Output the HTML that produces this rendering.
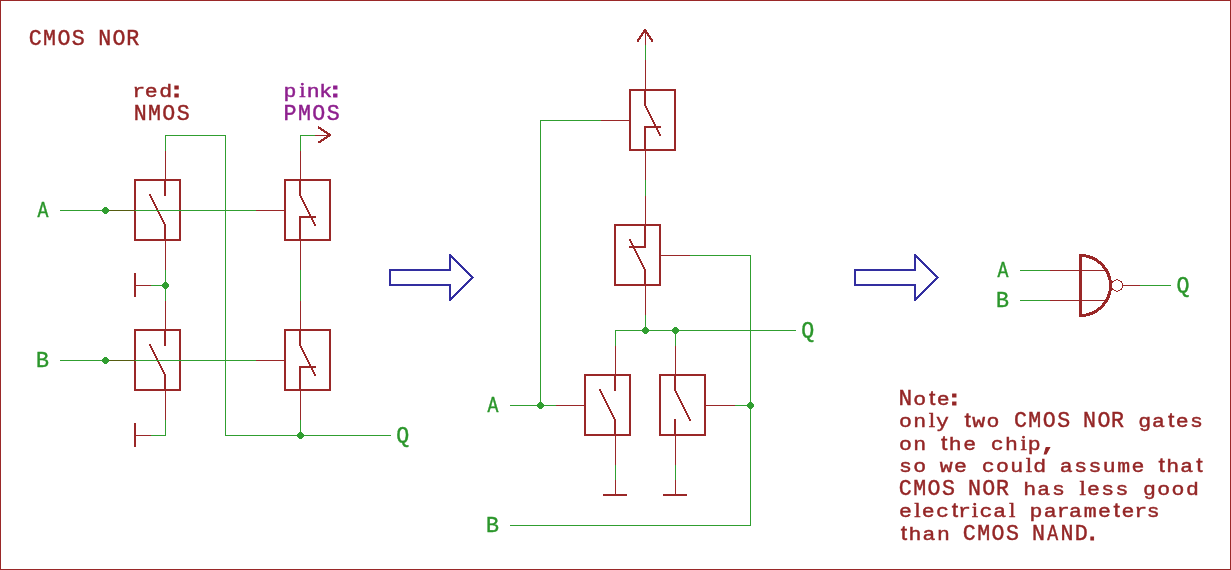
<!DOCTYPE html>
<html lang="en"><head><meta charset="utf-8"><title>CMOS NOR</title>
<style>
html,body{margin:0;padding:0;background:#fff;}
body{width:1231px;height:570px;overflow:hidden;position:relative;}
svg{position:absolute;left:0;top:0;display:block;will-change:transform;}
#frame{position:absolute;left:0;top:0;width:1229px;height:568px;border:1px solid #9a2828;}
text{font-family:"Liberation Mono",monospace;white-space:pre;stroke-width:0.45px;}
.m{font-family:"Liberation Mono",monospace;}
.mb{font-family:"Liberation Mono",monospace;font-weight:bold;stroke-width:0.9px;}
.s{font-family:"Liberation Sans",sans-serif;}
.sf{font-family:"Liberation Serif",serif;}
#g path,#g rect,#g circle,#g polygon{shape-rendering:crispEdges;}
</style></head><body>
<div id="frame"></div>
<svg width="1231" height="570" viewBox="0 0 1231 570">
<g id="g">
<path d="M60.5,210.5 L255.5,210.5" stroke="#309e30" stroke-width="1" fill="none" stroke-linecap="square"/>
<path d="M60.5,360.5 L255.5,360.5" stroke="#309e30" stroke-width="1" fill="none" stroke-linecap="square"/>
<path d="M105.5,210.5 L135.5,210.5" stroke="#9a2828" stroke-width="1" fill="none" stroke-linecap="square"/>
<path d="M165.5,150.5 L165.5,180.5" stroke="#9a2828" stroke-width="1" fill="none" stroke-linecap="square"/>
<path d="M165.5,240.5 L165.5,270.5" stroke="#9a2828" stroke-width="1" fill="none" stroke-linecap="square"/>
<rect x="135" y="180" width="45" height="60" stroke="#9a2828" stroke-width="2" fill="none" stroke-linejoin="round"/>
<path d="M165,180 L165,195" stroke="#9a2828" stroke-width="2" fill="none" stroke-linecap="round" stroke-linejoin="round"/>
<path d="M150,195 L165,225 L165,240" stroke="#9a2828" stroke-width="2" fill="none" stroke-linecap="round" stroke-linejoin="round"/>
<path d="M105.5,360.5 L135.5,360.5" stroke="#9a2828" stroke-width="1" fill="none" stroke-linecap="square"/>
<path d="M165.5,300.5 L165.5,330.5" stroke="#9a2828" stroke-width="1" fill="none" stroke-linecap="square"/>
<path d="M165.5,390.5 L165.5,420.5" stroke="#9a2828" stroke-width="1" fill="none" stroke-linecap="square"/>
<rect x="135" y="330" width="45" height="60" stroke="#9a2828" stroke-width="2" fill="none" stroke-linejoin="round"/>
<path d="M165,330 L165,345" stroke="#9a2828" stroke-width="2" fill="none" stroke-linecap="round" stroke-linejoin="round"/>
<path d="M150,345 L165,375 L165,390" stroke="#9a2828" stroke-width="2" fill="none" stroke-linecap="round" stroke-linejoin="round"/>
<path d="M255.5,210.5 L285.5,210.5" stroke="#9a2828" stroke-width="1" fill="none" stroke-linecap="square"/>
<path d="M300.5,150.5 L300.5,180.5" stroke="#9a2828" stroke-width="1" fill="none" stroke-linecap="square"/>
<path d="M300.5,240.5 L300.5,270.5" stroke="#9a2828" stroke-width="1" fill="none" stroke-linecap="square"/>
<rect x="285" y="180" width="45" height="60" stroke="#9a2828" stroke-width="2" fill="none" stroke-linejoin="round"/>
<path d="M300,180 L300,195 L315,225" stroke="#9a2828" stroke-width="2" fill="none" stroke-linecap="round" stroke-linejoin="round"/>
<path d="M315,217 L300,217 L300,240" stroke="#9a2828" stroke-width="2" fill="none" stroke-linecap="round" stroke-linejoin="round"/>
<path d="M255.5,360.5 L285.5,360.5" stroke="#9a2828" stroke-width="1" fill="none" stroke-linecap="square"/>
<path d="M300.5,300.5 L300.5,330.5" stroke="#9a2828" stroke-width="1" fill="none" stroke-linecap="square"/>
<path d="M300.5,390.5 L300.5,420.5" stroke="#9a2828" stroke-width="1" fill="none" stroke-linecap="square"/>
<rect x="285" y="330" width="45" height="60" stroke="#9a2828" stroke-width="2" fill="none" stroke-linejoin="round"/>
<path d="M300,330 L300,345 L315,375" stroke="#9a2828" stroke-width="2" fill="none" stroke-linecap="round" stroke-linejoin="round"/>
<path d="M315,367 L300,367 L300,390" stroke="#9a2828" stroke-width="2" fill="none" stroke-linecap="round" stroke-linejoin="round"/>
<path d="M105.5,210.5 L135.5,210.5" stroke="#565c10" stroke-width="1" fill="none" stroke-linecap="square"/>
<path d="M105.5,360.5 L135.5,360.5" stroke="#565c10" stroke-width="1" fill="none" stroke-linecap="square"/>
<path d="M135.5,210.5 L255.5,210.5" stroke="#309e30" stroke-width="1" fill="none" stroke-linecap="square"/>
<path d="M135.5,360.5 L255.5,360.5" stroke="#309e30" stroke-width="1" fill="none" stroke-linecap="square"/>
<path d="M165.5,150.5 L165.5,135.5 L225.5,135.5 L225.5,435.5 L390.5,435.5" stroke="#309e30" stroke-width="1" fill="none" stroke-linecap="square"/>
<path d="M165.5,270.5 L165.5,300.5" stroke="#309e30" stroke-width="1" fill="none" stroke-linecap="square"/>
<path d="M150.5,285.5 L165.5,285.5" stroke="#309e30" stroke-width="1" fill="none" stroke-linecap="square"/>
<path d="M135.5,285.5 L150.5,285.5" stroke="#9a2828" stroke-width="1" fill="none" stroke-linecap="square"/>
<path d="M135,273.75 L135,296.25" stroke="#9a2828" stroke-width="2" fill="none" stroke-linecap="round" stroke-linejoin="round"/>
<path d="M165.5,420.5 L165.5,435.5 L150.5,435.5" stroke="#309e30" stroke-width="1" fill="none" stroke-linecap="square"/>
<path d="M135.5,435.5 L150.5,435.5" stroke="#9a2828" stroke-width="1" fill="none" stroke-linecap="square"/>
<path d="M135,423.75 L135,446.25" stroke="#9a2828" stroke-width="2" fill="none" stroke-linecap="round" stroke-linejoin="round"/>
<path d="M300.5,150.5 L300.5,135.5 L315.5,135.5" stroke="#309e30" stroke-width="1" fill="none" stroke-linecap="square"/>
<path d="M315.5,135.5 L330.5,135.5" stroke="#9a2828" stroke-width="1" fill="none" stroke-linecap="square"/>
<path d="M318.75,127.5 L330,135 L318.75,142.5" stroke="#9a2828" stroke-width="2" fill="none" stroke-linecap="round" stroke-linejoin="round"/>
<path d="M300.5,270.5 L300.5,300.5" stroke="#309e30" stroke-width="1" fill="none" stroke-linecap="square"/>
<path d="M300.5,420.5 L300.5,435.5" stroke="#309e30" stroke-width="1" fill="none" stroke-linecap="square"/>
<polygon points="108.92,211.92 106.92,213.92 104.08,213.92 102.08,211.92 102.08,209.08 104.08,207.08 106.92,207.08 108.92,209.08" fill="#309e30"/>
<polygon points="108.92,361.92 106.92,363.92 104.08,363.92 102.08,361.92 102.08,359.08 104.08,357.08 106.92,357.08 108.92,359.08" fill="#309e30"/>
<polygon points="168.92,286.92 166.92,288.92 164.08,288.92 162.08,286.92 162.08,284.08 164.08,282.08 166.92,282.08 168.92,284.08" fill="#309e30"/>
<polygon points="303.92,436.92 301.92,438.92 299.08,438.92 297.08,436.92 297.08,434.08 299.08,432.08 301.92,432.08 303.92,434.08" fill="#309e30"/>
<path d="M390,270 L450,270 L450,255 L472.5,277.5 L450,300 L450,285 L390,285 Z" stroke="#322ea0" stroke-width="2" fill="none" stroke-linecap="round" stroke-linejoin="round"/>
<path d="M855,270 L915,270 L915,255 L937.5,277.5 L915,300 L915,285 L855,285 Z" stroke="#322ea0" stroke-width="2" fill="none" stroke-linecap="round" stroke-linejoin="round"/>
<path d="M645.5,30.5 L645.5,45.5" stroke="#9a2828" stroke-width="1" fill="none" stroke-linecap="square"/>
<path d="M645.5,45.5 L645.5,60.5" stroke="#309e30" stroke-width="1" fill="none" stroke-linecap="square"/>
<path d="M637.5,41.25 L645,30 L652.5,41.25" stroke="#9a2828" stroke-width="2" fill="none" stroke-linecap="round" stroke-linejoin="round"/>
<path d="M600.5,120.5 L630.5,120.5" stroke="#9a2828" stroke-width="1" fill="none" stroke-linecap="square"/>
<path d="M645.5,60.5 L645.5,90.5" stroke="#9a2828" stroke-width="1" fill="none" stroke-linecap="square"/>
<path d="M645.5,150.5 L645.5,180.5" stroke="#9a2828" stroke-width="1" fill="none" stroke-linecap="square"/>
<rect x="630" y="90" width="45" height="60" stroke="#9a2828" stroke-width="2" fill="none" stroke-linejoin="round"/>
<path d="M645,90 L645,105 L660,135" stroke="#9a2828" stroke-width="2" fill="none" stroke-linecap="round" stroke-linejoin="round"/>
<path d="M660,127 L645,127 L645,150" stroke="#9a2828" stroke-width="2" fill="none" stroke-linecap="round" stroke-linejoin="round"/>
<path d="M690.5,255.5 L660.5,255.5" stroke="#9a2828" stroke-width="1" fill="none" stroke-linecap="square"/>
<path d="M645.5,315.5 L645.5,285.5" stroke="#9a2828" stroke-width="1" fill="none" stroke-linecap="square"/>
<path d="M645.5,225.5 L645.5,195.5" stroke="#9a2828" stroke-width="1" fill="none" stroke-linecap="square"/>
<rect x="615" y="225" width="45" height="60" stroke="#9a2828" stroke-width="2" fill="none" stroke-linejoin="round"/>
<path d="M645,285 L645,270 L630,240" stroke="#9a2828" stroke-width="2" fill="none" stroke-linecap="round" stroke-linejoin="round"/>
<path d="M630,247 L645,247 L645,225" stroke="#9a2828" stroke-width="2" fill="none" stroke-linecap="round" stroke-linejoin="round"/>
<path d="M555.5,405.5 L585.5,405.5" stroke="#9a2828" stroke-width="1" fill="none" stroke-linecap="square"/>
<path d="M615.5,345.5 L615.5,375.5" stroke="#9a2828" stroke-width="1" fill="none" stroke-linecap="square"/>
<path d="M615.5,435.5 L615.5,465.5" stroke="#9a2828" stroke-width="1" fill="none" stroke-linecap="square"/>
<rect x="585" y="375" width="45" height="60" stroke="#9a2828" stroke-width="2" fill="none" stroke-linejoin="round"/>
<path d="M615,375 L615,390" stroke="#9a2828" stroke-width="2" fill="none" stroke-linecap="round" stroke-linejoin="round"/>
<path d="M600,390 L615,420 L615,435" stroke="#9a2828" stroke-width="2" fill="none" stroke-linecap="round" stroke-linejoin="round"/>
<path d="M735.5,405.5 L705.5,405.5" stroke="#9a2828" stroke-width="1" fill="none" stroke-linecap="square"/>
<path d="M675.5,465.5 L675.5,435.5" stroke="#9a2828" stroke-width="1" fill="none" stroke-linecap="square"/>
<path d="M675.5,375.5 L675.5,345.5" stroke="#9a2828" stroke-width="1" fill="none" stroke-linecap="square"/>
<rect x="660" y="375" width="45" height="60" stroke="#9a2828" stroke-width="2" fill="none" stroke-linejoin="round"/>
<path d="M675,435 L675,420" stroke="#9a2828" stroke-width="2" fill="none" stroke-linecap="round" stroke-linejoin="round"/>
<path d="M690,420 L675,390 L675,375" stroke="#9a2828" stroke-width="2" fill="none" stroke-linecap="round" stroke-linejoin="round"/>
<path d="M645.5,180.5 L645.5,195.5" stroke="#309e30" stroke-width="1" fill="none" stroke-linecap="square"/>
<path d="M690.5,255.5 L750.5,255.5 L750.5,525.5 L510.5,525.5" stroke="#309e30" stroke-width="1" fill="none" stroke-linecap="square"/>
<path d="M645.5,315.5 L645.5,330.5" stroke="#309e30" stroke-width="1" fill="none" stroke-linecap="square"/>
<path d="M615.5,345.5 L615.5,330.5 L795.5,330.5" stroke="#309e30" stroke-width="1" fill="none" stroke-linecap="square"/>
<path d="M675.5,330.5 L675.5,345.5" stroke="#309e30" stroke-width="1" fill="none" stroke-linecap="square"/>
<path d="M615.5,465.5 L615.5,480.5" stroke="#309e30" stroke-width="1" fill="none" stroke-linecap="square"/>
<path d="M615.5,480.5 L615.5,495.5" stroke="#9a2828" stroke-width="1" fill="none" stroke-linecap="square"/>
<path d="M603.75,495 L626.25,495" stroke="#9a2828" stroke-width="2" fill="none" stroke-linecap="round" stroke-linejoin="round"/>
<path d="M675.5,465.5 L675.5,480.5" stroke="#309e30" stroke-width="1" fill="none" stroke-linecap="square"/>
<path d="M675.5,480.5 L675.5,495.5" stroke="#9a2828" stroke-width="1" fill="none" stroke-linecap="square"/>
<path d="M663.75,495 L686.25,495" stroke="#9a2828" stroke-width="2" fill="none" stroke-linecap="round" stroke-linejoin="round"/>
<path d="M735.5,405.5 L750.5,405.5" stroke="#309e30" stroke-width="1" fill="none" stroke-linecap="square"/>
<path d="M510.5,405.5 L555.5,405.5" stroke="#309e30" stroke-width="1" fill="none" stroke-linecap="square"/>
<path d="M540.5,405.5 L540.5,120.5 L600.5,120.5" stroke="#309e30" stroke-width="1" fill="none" stroke-linecap="square"/>
<polygon points="648.92,331.92 646.92,333.92 644.08,333.92 642.08,331.92 642.08,329.08 644.08,327.08 646.92,327.08 648.92,329.08" fill="#309e30"/>
<polygon points="678.92,331.92 676.92,333.92 674.08,333.92 672.08,331.92 672.08,329.08 674.08,327.08 676.92,327.08 678.92,329.08" fill="#309e30"/>
<polygon points="753.92,406.92 751.92,408.92 749.08,408.92 747.08,406.92 747.08,404.08 749.08,402.08 751.92,402.08 753.92,404.08" fill="#309e30"/>
<polygon points="543.92,406.92 541.92,408.92 539.08,408.92 537.08,406.92 537.08,404.08 539.08,402.08 541.92,402.08 543.92,404.08" fill="#309e30"/>
<path d="M1020.5,270.5 L1050.5,270.5" stroke="#309e30" stroke-width="1" fill="none" stroke-linecap="square"/>
<path d="M1020.5,300.5 L1050.5,300.5" stroke="#309e30" stroke-width="1" fill="none" stroke-linecap="square"/>
<path d="M1050.5,270.5 L1105.5,270.5" stroke="#9a2828" stroke-width="1" fill="none" stroke-linecap="square"/>
<path d="M1050.5,300.5 L1105.5,300.5" stroke="#9a2828" stroke-width="1" fill="none" stroke-linecap="square"/>
<path d="M1080.5,255.5 L1080.5,315.5 A30,30 0 0 0 1080.5,255.5 Z" stroke="#9a2828" stroke-width="3" fill="none" stroke-linejoin="round"/>
<circle cx="1117" cy="285.5" r="5.7" stroke="#9a2828" stroke-width="1" fill="none"/>
<path d="M1123.5,285.5 L1140.5,285.5" stroke="#9a2828" stroke-width="1" fill="none" stroke-linecap="square"/>
<path d="M1140.5,285.5 L1170.5,285.5" stroke="#309e30" stroke-width="1" fill="none" stroke-linecap="square"/>
</g>
<g id="t">
<text y="217.5" fill="#2b962b" stroke="#2b962b" transform="scale(0.95,1)"><tspan class="m" font-size="22.77" x="39.4" textLength="11.48" lengthAdjust="spacingAndGlyphs">A</tspan></text>
<text y="367.5" fill="#2b962b" stroke="#2b962b" transform="scale(0.95,1)"><tspan class="m" font-size="22.77" x="37.9">B</tspan></text>
<text y="442.5" fill="#2b962b" stroke="#2b962b" transform="scale(0.95,1)"><tspan class="m" font-size="22.77" x="417.2">Q</tspan></text>
<text y="412.5" fill="#2b962b" stroke="#2b962b" transform="scale(0.95,1)"><tspan class="m" font-size="22.77" x="513.1" textLength="11.48" lengthAdjust="spacingAndGlyphs">A</tspan></text>
<text y="532.5" fill="#2b962b" stroke="#2b962b" transform="scale(0.95,1)"><tspan class="m" font-size="22.77" x="511.5">B</tspan></text>
<text y="337.5" fill="#2b962b" stroke="#2b962b" transform="scale(0.95,1)"><tspan class="m" font-size="22.77" x="843.5">Q</tspan></text>
<text y="277.5" fill="#2b962b" stroke="#2b962b" transform="scale(0.95,1)"><tspan class="m" font-size="22.77" x="1049.9" textLength="11.48" lengthAdjust="spacingAndGlyphs">A</tspan></text>
<text y="307.5" fill="#2b962b" stroke="#2b962b" transform="scale(0.95,1)"><tspan class="m" font-size="22.77" x="1048.4">B</tspan></text>
<text y="292.5" fill="#2b962b" stroke="#2b962b" transform="scale(0.95,1)"><tspan class="m" font-size="22.77" x="1238.3">Q</tspan></text>
<text y="45" fill="#942626" stroke="#942626" transform="scale(0.95,1)"><tspan class="m" font-size="22.77" x="30.2 45.4 60.4 75.6 86.6 103.3 118.3 132.8">CMOS NOR</tspan></text>
<text y="97.5" fill="#942626" stroke="#942626" transform="scale(1.12,1)"><tspan class="m" font-size="19.2" x="118.0 129.2 142.2">red</tspan><tspan class="mb" font-size="21" x="151.3">:</tspan></text>
<text y="120" fill="#942626" stroke="#942626" transform="scale(0.95,1)"><tspan class="m" font-size="22.77" x="140.8 155.8 170.9 186.0">NMOS</tspan></text>
<text y="97.5" fill="#8e208e" stroke="#8e208e" transform="scale(1.12,1)"><tspan class="m" font-size="19.2" x="253.2">p</tspan><tspan class="sf" font-size="20.5" x="267.2">i</tspan><tspan class="m" font-size="19.2" x="274.0 285.0">nk</tspan><tspan class="mb" font-size="21" x="293.1">:</tspan></text>
<text y="120" fill="#8e208e" stroke="#8e208e" transform="scale(0.95,1)"><tspan class="m" font-size="22.77" x="298.4 313.7 328.8 343.9">PMOS</tspan></text>
<text y="405" fill="#942626" stroke="#942626" transform="scale(1.12,1)"><tspan class="m" font-size="22.77" x="802.3" textLength="12.20" lengthAdjust="spacingAndGlyphs">N</tspan><tspan class="m" font-size="19.2" x="815.4">o</tspan><tspan class="s" font-size="20.5" x="829.4">t</tspan><tspan class="m" font-size="19.2" x="836.4">e</tspan><tspan class="mb" font-size="21" x="845.7">:</tspan></text>
<text y="427.5" fill="#942626" stroke="#942626" transform="scale(1.12,1)"><tspan class="m" font-size="19.2" x="802.6 815.4">on</tspan><tspan class="sf" font-size="20.5" x="829.2">l</tspan><tspan class="m" font-size="19.2" x="835.8 846.8">y </tspan><tspan class="s" font-size="20.5" x="861.2">t</tspan><tspan class="m" font-size="19.2" x="868.2 880.9 891.9">wo </tspan></text>
<text y="427.5" fill="#942626" stroke="#942626" transform="scale(0.95,1)"><tspan class="m" font-size="22.77" x="1067.3 1082.5 1097.6 1112.8 1123.8 1140.1 1155.2 1169.6 1180.6">CMOS NOR </tspan></text>
<text y="427.5" fill="#942626" stroke="#942626" transform="scale(1.12,1)"><tspan class="m" font-size="19.2" x="1016.2 1028.5">ga</tspan><tspan class="s" font-size="20.5" x="1042.8">t</tspan><tspan class="m" font-size="19.2" x="1049.8 1062.6">es</tspan></text>
<text y="450" fill="#942626" stroke="#942626" transform="scale(1.12,1)"><tspan class="m" font-size="19.2" x="802.6 815.4 826.4">on </tspan><tspan class="s" font-size="20.5" x="840.2">t</tspan><tspan class="m" font-size="19.2" x="847.2 860.0 871.0 884.6 897.3">he ch</tspan><tspan class="sf" font-size="20.5" x="911.2">i</tspan><tspan class="m" font-size="19.2" x="917.7">p</tspan><tspan class="mb" font-size="21" x="929.7">,</tspan></text>
<text y="472.5" fill="#942626" stroke="#942626" transform="scale(1.12,1)"><tspan class="m" font-size="19.2" x="802.6 815.4 826.4 839.0 851.7 862.7 876.6 889.2 902.0">so we cou</tspan><tspan class="sf" font-size="20.5" x="915.8">l</tspan><tspan class="m" font-size="19.2" x="922.6 933.6 946.1 959.2 971.9 984.6 997.5 1010.2 1021.2">d assume </tspan><tspan class="s" font-size="20.5" x="1034.4">t</tspan><tspan class="m" font-size="19.2" x="1041.4 1053.9">ha</tspan><tspan class="s" font-size="20.5" x="1068.1">t</tspan></text>
<text y="495" fill="#942626" stroke="#942626" transform="scale(0.95,1)"><tspan class="m" font-size="22.77" x="946.1 961.3 976.3 991.5 1002.5 1019.0 1034.0 1048.5 1059.5">CMOS NOR </tspan></text>
<text y="495" fill="#942626" stroke="#942626" transform="scale(1.12,1)"><tspan class="m" font-size="19.2" x="913.6 926.1 939.2 950.2">has </tspan><tspan class="sf" font-size="20.5" x="963.9">l</tspan><tspan class="m" font-size="19.2" x="970.5 983.3 996.0 1007.0 1020.6 1033.3 1046.0 1059.0">ess good</tspan></text>
<text y="517.5" fill="#942626" stroke="#942626" transform="scale(1.12,1)"><tspan class="m" font-size="19.2" x="802.6">e</tspan><tspan class="sf" font-size="20.5" x="816.4">l</tspan><tspan class="m" font-size="19.2" x="823.0 835.8">ec</tspan><tspan class="s" font-size="20.5" x="849.8">t</tspan><tspan class="m" font-size="19.2" x="855.4">r</tspan><tspan class="sf" font-size="20.5" x="867.7">i</tspan><tspan class="m" font-size="19.2" x="874.5 886.9">ca</tspan><tspan class="sf" font-size="20.5" x="901.0 912.0">l </tspan><tspan class="m" font-size="19.2" x="919.2 931.9 943.6 954.5 967.6 980.3">parame</tspan><tspan class="s" font-size="20.5" x="994.3">t</tspan><tspan class="m" font-size="19.2" x="1001.3 1012.7 1023.9">ers</tspan></text>
<text y="540" fill="#942626" stroke="#942626" transform="scale(1.12,1)"><tspan class="s" font-size="20.5" x="804.2">t</tspan><tspan class="m" font-size="19.2" x="811.2 823.7 836.7 847.7">han </tspan></text>
<text y="540" fill="#942626" stroke="#942626" transform="scale(0.95,1)"><tspan class="m" font-size="22.77" x="1013.4 1028.6 1043.7 1058.9 1069.9 1086.3">CMOS N</tspan><tspan class="m" font-size="22.77" x="1102.5" textLength="11.48" lengthAdjust="spacingAndGlyphs">A</tspan><tspan class="m" font-size="22.77" x="1116.4 1131.2">ND</tspan><tspan class="mb" font-size="21" x="1143.5">.</tspan></text>
</g>
</svg>
</body></html>
